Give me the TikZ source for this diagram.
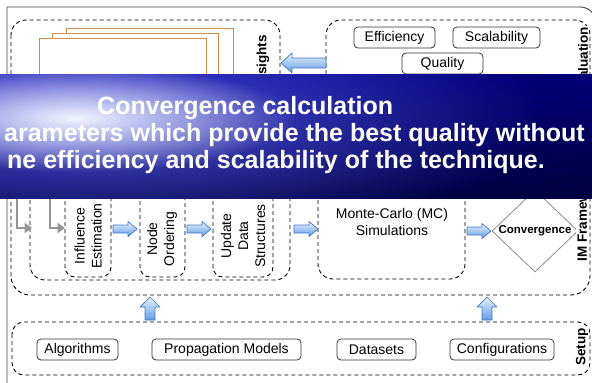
\documentclass[tikz,border=0pt]{standalone}
\usepackage{fontspec}
\setmainfont{Liberation Sans}
\usetikzlibrary{shapes.geometric,arrows.meta,fadings}

\definecolor{pageorange}{RGB}{208,140,70}
\definecolor{arrowlight}{RGB}{232,242,255}
\definecolor{arrowdark}{RGB}{100,155,228}
\definecolor{arrowline}{RGB}{65,120,195}
\definecolor{bannertop}{RGB}{0,0,150}
\definecolor{bannermid}{RGB}{12,22,218}
\definecolor{bannerbot}{RGB}{0,0,80}
\definecolor{glowcore}{RGB}{242,244,255}
\definecolor{glowhalo}{RGB}{110,120,255}

\tikzfading[name=glowfade, inner color=transparent!0, outer color=transparent!100]
\tikzfading[name=darkright, left color=transparent!100, right color=transparent!0]

\begin{document}
\begin{tikzpicture}[x=1pt, y=-1pt,
  group/.style={draw=black, dash pattern=on 4pt off 3pt, line width=0.9pt},
  page/.style={draw=pageorange, line width=0.9pt, fill=white},
  lbl/.style={draw=black!80, line width=0.8pt, rounded corners=4pt, fill=white,
    minimum height=21pt, inner sep=0pt, font=\fontsize{14}{16}\selectfont},
  vtext/.style={rotate=90, align=center, inner sep=0pt, font=\fontsize{14}{17}\selectfont},
  side/.style={rotate=90, fill=white, inner sep=1pt, font=\bfseries\fontsize{13.5}{16}\selectfont},
  blockfill/.style={draw=arrowline, line width=0.7pt, line join=round,
    top color=arrowlight, bottom color=arrowdark},
  % block arrow pointing along +x: {length}{head width}{body width}{head length}
  pics/blockarrow/.style n args={4}{code={
    \path[blockfill] (-#1/2,-#3/2) -- (#1/2-#4,-#3/2) -- (#1/2-#4,-#2/2) -- (#1/2,0)
      -- (#1/2-#4,#2/2) -- (#1/2-#4,#3/2) -- (-#1/2,#3/2) -- cycle;
  }},
  grayarrow/.style={draw=black!42, line width=2.6pt, -{Triangle[length=7.5pt, width=10pt]}},
  bannertext/.style={text=white, inner sep=0pt, font=\bfseries\fontsize{25}{27}\selectfont}
]
\useasboundingbox (0,0) rectangle (592,383);

% outer frame
\draw[black!75, line width=0.9pt] (7,395) -- (7,7) -- (580,7)
  .. controls (589,7) and (596,14) .. (596,23) -- (596,395);

% top groups
\draw[group, rounded corners=15pt] (11,20) rectangle (280,112);
\draw[group, rounded corners=15pt] (326,20) rectangle (590,112);

% stacked result pages
\draw[page] (66,28) rectangle (233,110);
\draw[page] (52,33) rectangle (218,115);
\draw[page] (39,38) rectangle (206,120);

\node[side] (insights) at (263,61) {Insights};
\node[side] (evaluation) at (583,61) {Evaluation};

\node[lbl, minimum width=81pt] (eff) at (394.5,37.5) {Efficiency};
\node[lbl, minimum width=87pt] (scal) at (496.5,37.5) {Scalability};
\node[lbl, minimum width=81pt] (qual) at (442.5,63.5) {Quality};

\pic[rotate=180] (feedback) at (303.5,63) {blockarrow={45}{20}{10}{11}};

% IM framework
\draw[group, rounded corners=19pt] (11,120) rectangle (590,295);
\draw[group, rounded corners=15pt] (30,150) rectangle (290,280);
\draw[group, rounded corners=10pt] (65,170) rectangle (111,277);
\draw[group, rounded corners=10pt] (140,170) rectangle (185,277);
\draw[group, rounded corners=10pt] (213,170) rectangle (273,277);
\draw[group, rounded corners=15pt] (318,150) rectangle (465,279);

\node[vtext] (infl) at (88,236) {Influence\\Estimation};
\node[vtext] (order) at (162,239) {Node\\Ordering};
\node[vtext] (update) at (243,236) {Update\\Data\\Structures};
\node[align=center, font=\fontsize{14}{17}\selectfont] (mc) at (392,222) {Monte-Carlo (MC)\\Simulations};

\node[diamond, draw=black!45, line width=0.8pt, aspect=1.05, inner sep=0pt,
  minimum width=86pt, minimum height=82pt,
  font=\bfseries\fontsize{11.5}{13}\selectfont] (conv) at (535,231) {Convergence};

\pic (a1) at (125,229) {blockarrow={24}{15}{8}{9}};
\pic (a2) at (199,229) {blockarrow={24}{15}{8}{9}};
\pic (a3) at (306,229) {blockarrow={24}{15}{8}{9}};
\pic (a4) at (479,231) {blockarrow={24}{15}{8}{9}};

\coordinate (g1s) at (17,150);
\coordinate (g1e) at (32,228);
\coordinate (g2s) at (50,150);
\coordinate (g2e) at (65,228);
\draw[grayarrow] (g1s) |- (g1e);
\draw[grayarrow] (g2s) |- (g2e);

\node[side] (imfw) at (582,216) {IM Framework};

% setup
\draw[group, rounded corners=12pt] (12,322) rectangle (590,375);
\node[side] (setup) at (582,347) {Setup};
\node[lbl, minimum width=81pt] (alg) at (77.5,349.5) {Algorithms};
\node[lbl, minimum width=149pt] (prop) at (226.5,349.5) {Propagation Models};
\node[lbl, minimum width=79pt] (data) at (376.5,349.5) {Datasets};
\node[lbl, minimum width=104pt] (conf) at (502,349.5) {Configurations};

\pic[rotate=90] (u1) at (150,308.5) {blockarrow={23}{20}{10}{10}};
\pic[rotate=90] (u2) at (487,308.5) {blockarrow={23}{20}{10}{10}};

% banner
\begin{scope}
  \clip (0,74) rectangle (592,198);
  \shade[top color=bannertop, middle color=bannermid, bottom color=bannerbot] (0,74) rectangle (592,198);
  \fill[black, opacity=0.2, path fading=darkright] (0,74) rectangle (592,198);
  \fill[glowhalo, opacity=0.7, path fading=glowfade] (90,120) ellipse [x radius=460pt, y radius=120pt];
  \fill[glowcore, path fading=glowfade] (75,118) ellipse [x radius=220pt, y radius=54pt];
  \node[bannertext, anchor=base west] (t1) at (97,114) {Convergence calculation};
  \node[bannertext, anchor=base east] (t2) at (585,141) {arameters which provide the best quality without};
  \node[bannertext, anchor=base east] (t3) at (545,168) {ne efficiency and scalability of the technique.};
\end{scope}
\end{tikzpicture}
\end{document}
